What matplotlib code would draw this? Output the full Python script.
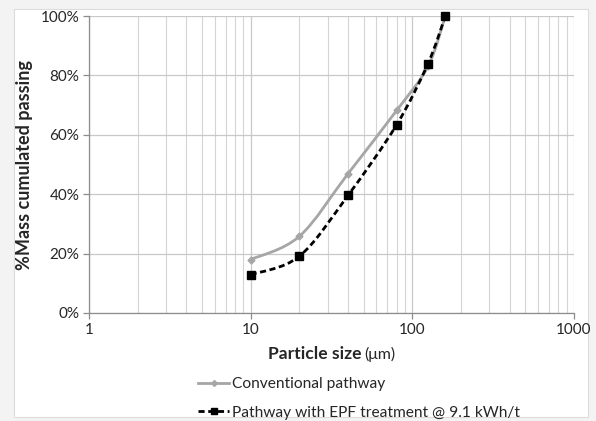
import numpy as np
import matplotlib
matplotlib.use('Agg')
import matplotlib.pyplot as plt
import matplotlib.ticker as ticker
from matplotlib.path import Path
from matplotlib.patches import PathPatch, Rectangle
from matplotlib.lines import Line2D

# --- data ---
size_um = [10, 20, 40, 80, 125, 160]
conventional = [18.0, 25.8, 46.9, 68.2, 83.0, 100.0]
epf = [12.9, 19.1, 39.6, 63.4, 84.0, 100.0]

y_ticks = [0, 20, 40, 60, 80, 100]
x_ticks = [1, 10, 100, 1000]

GRAY = '#a6a6a6'
BLACK = '#000000'
GRID = '#c8c8c8'
TEXT = '#262626'

plt.rcParams['font.family'] = ['Lato', 'DejaVu Sans']

W, H = 596, 421
fig = plt.figure(figsize=(W / 100, H / 100), dpi=100, facecolor='#f3f3f3')
fig.patches.append(Rectangle((14 / W, 1 - 417 / H), 574 / W, 408 / H,
                             transform=fig.transFigure, facecolor='white',
                             edgecolor='#dcdcdc', linewidth=0.8, zorder=-1))

ax = fig.add_axes([89 / W, 1 - 313 / H, 485 / W, 297 / H])
ax.set_facecolor('none')
ax.set_xscale('log')
ax.set_xlim(1, 1000)
ax.set_ylim(0, 100)


def smooth_path(xs, ys):
    # Excel-style smoothed line: cubic Bezier through points in (log x, y)
    u = np.log10(xs)
    v = np.asarray(ys, dtype=float)
    n = len(u)
    verts = [(u[0], v[0])]
    codes = [Path.MOVETO]
    for i in range(n - 1):
        i0 = max(i - 1, 0)
        i3 = min(i + 2, n - 1)
        c1 = (u[i] + (u[i + 1] - u[i0]) / 6, v[i] + (v[i + 1] - v[i0]) / 6)
        c2 = (u[i + 1] - (u[i3] - u[i]) / 6, v[i + 1] - (v[i3] - v[i]) / 6)
        verts += [c1, c2, (u[i + 1], v[i + 1])]
        codes += [Path.CURVE4] * 3
    verts = [(10 ** a, b) for a, b in verts]
    return Path(verts, codes)


ax.add_patch(PathPatch(smooth_path(size_um, conventional), facecolor='none',
                       edgecolor=GRAY, linewidth=2.0, zorder=3))
ax.plot(size_um, conventional, linestyle='none', marker='D', markersize=3.5,
        color=GRAY, zorder=4)

ax.add_patch(PathPatch(smooth_path(size_um, epf), facecolor='none',
                       edgecolor=BLACK, linewidth=2.0, linestyle=(0, (2.2, 1.3)),
                       zorder=5))
ax.plot(size_um, epf, linestyle='none', marker='s', markersize=6,
        color=BLACK, zorder=6, clip_on=False)

# --- axes ---
ax.yaxis.set_major_locator(ticker.FixedLocator(y_ticks))
ax.yaxis.set_major_formatter(ticker.FuncFormatter(lambda v, p: f'{v:.0f}%'))
ax.xaxis.set_major_locator(ticker.FixedLocator(x_ticks))
ax.xaxis.set_major_formatter(ticker.FuncFormatter(lambda v, p: f'{v:.0f}'))
ax.xaxis.set_minor_locator(ticker.LogLocator(base=10, subs=np.arange(2, 10)))
ax.xaxis.set_minor_formatter(ticker.NullFormatter())

ax.grid(True, which='major', axis='both', color=GRID, linewidth=0.9)
ax.grid(True, which='minor', axis='x', color='#d4d4d4', linewidth=0.8)
ax.set_axisbelow(True)

for s in ['top', 'right']:
    ax.spines[s].set_visible(False)
for s in ['left', 'bottom']:
    ax.spines[s].set_color('#8c8c8c')
    ax.spines[s].set_linewidth(0.9)

ax.tick_params(axis='both', which='major', labelsize=11, colors='#8c8c8c',
               labelcolor=TEXT, length=4, width=0.9, pad=3)
ax.tick_params(axis='x', which='minor', length=0)

fig.text(25 / W, 1 - 165 / H, '%Mass cumulated passing',
         rotation=90, ha='center', va='center', fontsize=13,
         fontweight='bold', color=TEXT)
fig.text(268 / W, 1 - 359 / H, 'Particle size', fontsize=12.6,
         fontweight='bold', color=TEXT, ha='left', va='baseline')
fig.text(364 / W, 1 - 359 / H, '(μm)', fontsize=11.5,
         color=TEXT, ha='left', va='baseline')

handles = [
    Line2D([0], [0], color=GRAY, linewidth=2.0, marker='D', markersize=3,
           label='Conventional pathway'),
    Line2D([0], [0], color=BLACK, linewidth=2.0, linestyle=(0, (2.2, 1.3)),
           marker='s', markersize=5, label='Pathway with EPF treatment @ 9.1 kWh/t'),
]
fig.legend(handles=handles, loc='upper left',
           bbox_to_anchor=(198 / W, 1 - 377 / H), frameon=False,
           fontsize=11.2, handlelength=2.0, handletextpad=0.2,
           borderpad=0, borderaxespad=0,
           labelspacing=0.95, labelcolor=TEXT)

fig.savefig('out.png', dpi=100, facecolor=fig.get_facecolor())
